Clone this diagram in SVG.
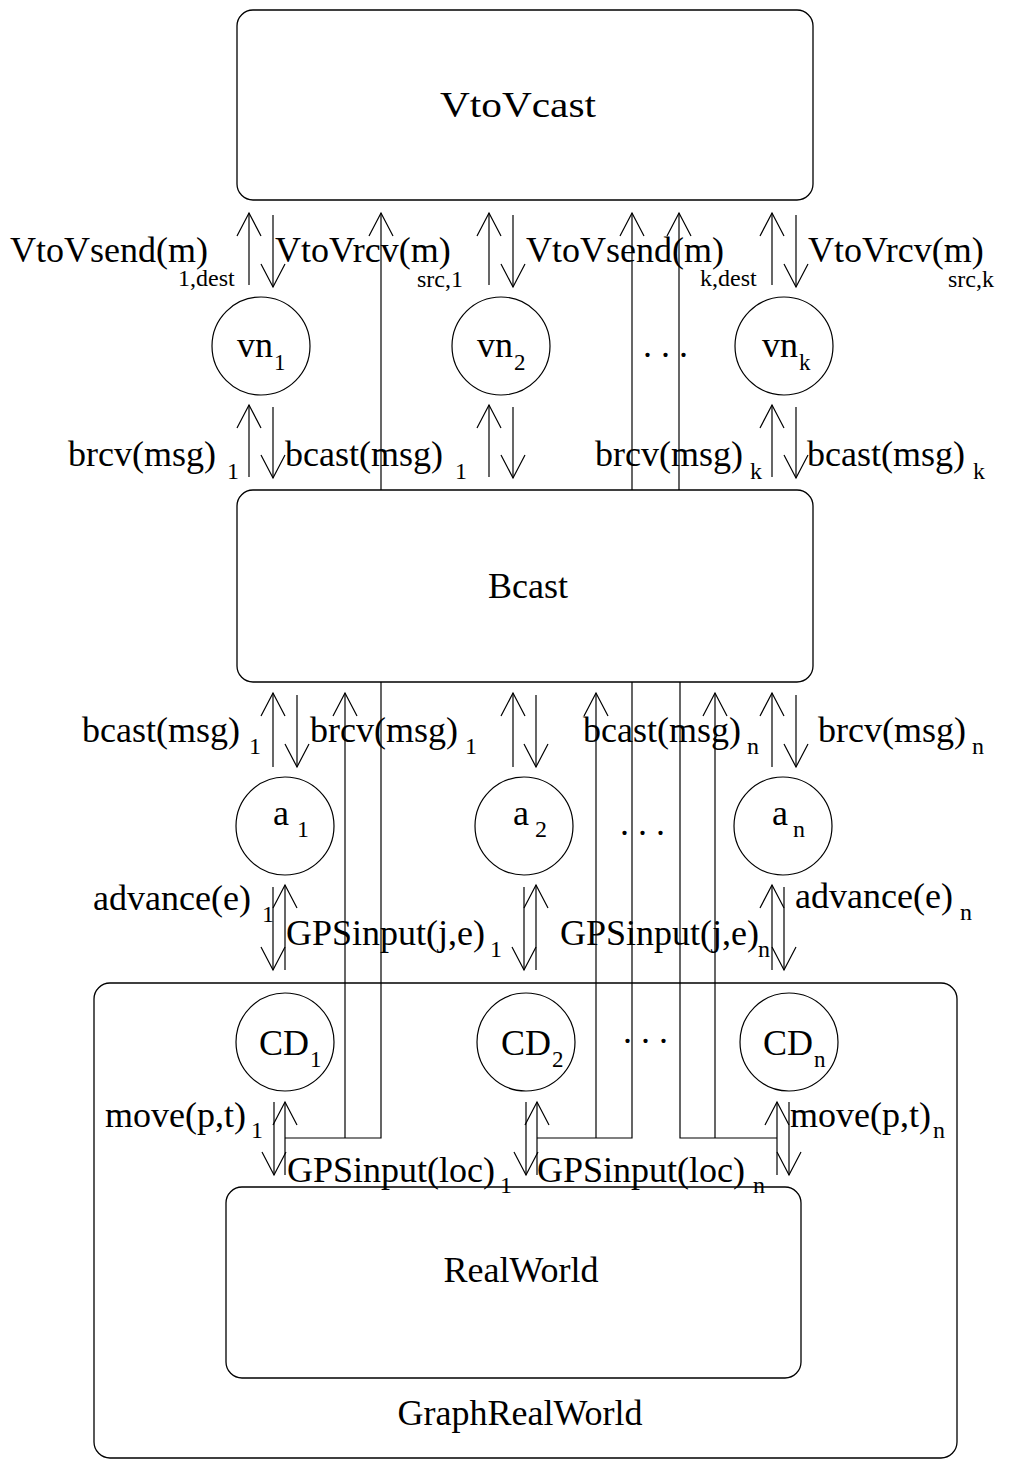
<svg xmlns="http://www.w3.org/2000/svg" width="1013" height="1461" viewBox="0 0 1013 1461">
<style>
.box{fill:none;stroke:#000;stroke-width:1.3}
.c{fill:none;stroke:#000;stroke-width:1.2}
.ln{fill:none;stroke:#000;stroke-width:1.2}
.ar{fill:none;stroke:#000;stroke-width:1.2;marker-end:url(#ah)}
text{font-family:"Liberation Serif","Times New Roman",serif;fill:#000}
.t{font-size:36px}
.s{font-size:24px}
.n{font-size:23px}
.m{text-anchor:middle}
</style>
<defs>
<marker id="ah" markerUnits="userSpaceOnUse" markerWidth="30" markerHeight="30" viewBox="-26 -15 30 30" refX="0" refY="0" orient="auto">
<path d="M-23,-12 L0,0 L-23,12" fill="none" stroke="#000" stroke-width="1.2"/>
</marker>
</defs>
<rect x="0" y="0" width="1013" height="1461" fill="#fff"/>

<g id="VtoVcast"><rect class="box" x="237" y="10" width="576" height="190" rx="16"/><text class="t m" x="518" y="117" textLength="156" lengthAdjust="spacingAndGlyphs">VtoVcast</text></g>
<g id="Bcast"><rect class="box" x="237" y="490" width="576" height="192" rx="16"/><text class="t m" x="528" y="598">Bcast</text></g>
<g id="GraphRealWorld"><rect class="box" x="94" y="983" width="863" height="475" rx="16"/><text class="t m" x="520" y="1425">GraphRealWorld</text></g>
<g id="RealWorld"><rect class="box" x="226" y="1187" width="575" height="191" rx="16"/><text class="t m" x="521" y="1282">RealWorld</text></g>

<g id="vn1"><circle class="c" cx="261" cy="346" r="49"/><text class="t" x="237" y="357">vn</text><text class="n" x="274" y="370">1</text></g>
<g id="vn2"><circle class="c" cx="501" cy="346" r="49"/><text class="t" x="477" y="357">vn</text><text class="n" x="514" y="370">2</text></g>
<g id="vnk"><circle class="c" cx="784" cy="346" r="49"/><text class="t" x="762" y="357">vn</text><text class="n" x="799" y="370">k</text></g>
<text class="t" x="643" y="357">. . .</text>

<g id="a1"><circle class="c" cx="285" cy="826" r="49"/><text class="t" x="273" y="825">a</text><text class="s" x="297" y="837">1</text></g>
<g id="a2"><circle class="c" cx="524" cy="826" r="49"/><text class="t" x="513" y="825">a</text><text class="s" x="535" y="837">2</text></g>
<g id="an"><circle class="c" cx="783" cy="826" r="49"/><text class="t" x="772" y="825">a</text><text class="s" x="793" y="837">n</text></g>
<text class="t" x="620" y="835">. . .</text>

<g id="CD1"><circle class="c" cx="285" cy="1042" r="49"/><text class="t" x="259" y="1055">CD</text><text class="n" x="310" y="1067">1</text></g>
<g id="CD2"><circle class="c" cx="526" cy="1042" r="49"/><text class="t" x="501" y="1055">CD</text><text class="n" x="552" y="1067">2</text></g>
<g id="CDn"><circle class="c" cx="789" cy="1042" r="49"/><text class="t" x="763" y="1055">CD</text><text class="n" x="814" y="1067">n</text></g>
<text class="t" x="623" y="1043">. . .</text>

<g id="connectors">
<path class="ar" d="M249,285 V213"/>
<path class="ar" d="M273,215 V287"/>
<path class="ar" d="M381,490 V213"/>
<path class="ar" d="M489,285 V213"/>
<path class="ar" d="M513,215 V287"/>
<path class="ar" d="M632,490 V213"/>
<path class="ar" d="M679,490 V213"/>
<path class="ar" d="M772,285 V213"/>
<path class="ar" d="M796,215 V287"/>

<path class="ar" d="M249,477 V405"/>
<path class="ar" d="M273,407 V478"/>
<path class="ar" d="M489,477 V405"/>
<path class="ar" d="M513,407 V478"/>
<path class="ar" d="M772,477 V405"/>
<path class="ar" d="M796,407 V478"/>

<path class="ar" d="M273,767 V693"/>
<path class="ar" d="M297,695 V767"/>
<path class="ar" d="M345,1138 V693"/>
<path class="ln" d="M381,682 V1138 H285"/>
<path class="ar" d="M513,767 V693"/>
<path class="ar" d="M536,695 V767"/>
<path class="ar" d="M596,1138 V693"/>
<path class="ln" d="M632,682 V1138 H537"/>
<path class="ln" d="M680,682 V1138 H777"/>
<path class="ar" d="M715,1138 V693"/>
<path class="ar" d="M772,767 V693"/>
<path class="ar" d="M796,695 V767"/>

<path class="ar" d="M273,887 V970"/>
<path class="ar" d="M285,970 V885"/>
<path class="ar" d="M524,887 V970"/>
<path class="ar" d="M536,970 V885"/>
<path class="ar" d="M772,970 V885"/>
<path class="ar" d="M784,887 V970"/>

<path class="ar" d="M274,1102 V1175"/>
<path class="ar" d="M285,1175 V1102"/>
<path class="ar" d="M526,1102 V1175"/>
<path class="ar" d="M537,1175 V1102"/>
<path class="ar" d="M777,1175 V1102"/>
<path class="ar" d="M789,1102 V1175"/>
</g>

<g id="labels">
<text class="t" x="10" y="262">VtoVsend(m)</text><text class="s" x="178" y="286">1,dest</text>
<text class="t" x="275" y="262">VtoVrcv(m)</text><text class="s" x="417" y="287">src,1</text>
<text class="t" x="526" y="262">VtoVsend(m)</text><text class="s" x="700" y="286">k,dest</text>
<text class="t" x="808" y="262">VtoVrcv(m)</text><text class="s" x="948" y="287">src,k</text>

<text class="t" x="68" y="466">brcv(msg)</text><text class="s" x="227" y="479">1</text>
<text class="t" x="285" y="466">bcast(msg)</text><text class="s" x="455" y="479">1</text>
<text class="t" x="595" y="466">brcv(msg)</text><text class="s" x="750" y="479">k</text>
<text class="t" x="807" y="466">bcast(msg)</text><text class="s" x="973" y="479">k</text>

<text class="t" x="82" y="742">bcast(msg)</text><text class="s" x="249" y="754">1</text>
<text class="t" x="310" y="742">brcv(msg)</text><text class="s" x="465" y="754">1</text>
<text class="t" x="583" y="742">bcast(msg)</text><text class="s" x="747" y="754">n</text>
<text class="t" x="818" y="742">brcv(msg)</text><text class="s" x="972" y="754">n</text>

<text class="t" x="93" y="910">advance(e)</text><text class="s" x="262" y="922">1</text>
<text class="t" x="286" y="945">GPSinput(j,e)</text><text class="s" x="490" y="957">1</text>
<text class="t" x="560" y="945">GPSinput(j,e)</text><text class="s" x="758" y="957">n</text>
<text class="t" x="795" y="908">advance(e)</text><text class="s" x="960" y="920">n</text>

<text class="t" x="105" y="1127">move(p,t)</text><text class="s" x="251" y="1138">1</text>
<text class="t" x="287" y="1182">GPSinput(loc)</text><text class="s" x="500" y="1193">1</text>
<text class="t" x="537" y="1182">GPSinput(loc)</text><text class="s" x="753" y="1193">n</text>
<text class="t" x="790" y="1127">move(p,t)</text><text class="s" x="933" y="1138">n</text>
</g>
</svg>
